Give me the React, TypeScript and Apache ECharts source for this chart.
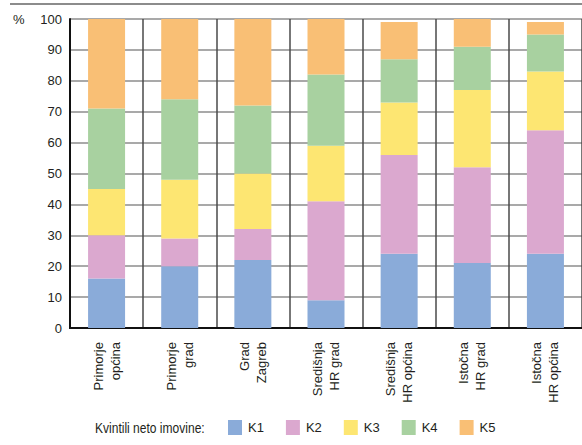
import React, { useEffect, useRef } from "react";
import * as echarts from "echarts";

const categories = [
  "Primorje\nopćina",
  "Primorje\ngrad",
  "Grad\nZagreb",
  "Središnja\nHR grad",
  "Središnja\nHR općina",
  "Istočna\nHR grad",
  "Istočna\nHR općina",
];
const seriesNames = ["K1", "K2", "K3", "K4", "K5"];
const k1 = [16, 20, 22, 9, 24, 21, 24];
const k2 = [14, 9, 10, 32, 32, 31, 40];
const k3 = [15, 19, 18, 18, 17, 25, 19];
const k4 = [26, 26, 22, 23, 14, 14, 12];
const k5 = [29, 26, 28, 18, 12, 9, 4];
const seriesValues = [k1, k2, k3, k4, k5];
const colors = ["#8aabd9", "#dba8cf", "#fde672", "#a8d1a0", "#f9bf75"];
const yTicks = { min: 0, max: 100, interval: 10 };

const FONT = "'Liberation Sans', Arial, sans-serif";

export default function App() {
  const ref = useRef<HTMLDivElement>(null);
  useEffect(() => {
    document.body.style.margin = "0";
    const chart = echarts.init(ref.current!, null, { renderer: "svg" });
    chart.setOption({
      animation: false,
      textStyle: { fontFamily: FONT, color: "#231f20" },
      grid: { left: 70, top: 19, height: 309, width: 514, containLabel: false },
      xAxis: [
        {
          type: "category",
          data: categories,
          axisLine: { show: true, onZero: false, lineStyle: { color: "#111", width: 2 } },
          axisTick: { show: false },
          splitLine: { show: true, lineStyle: { color: "#4a4a4a", width: 1.5 } },
          axisLabel: {
            interval: 0,
            rotate: 90,
            fontSize: 13,
            lineHeight: 17,
            margin: 14,
            color: "#231f20",
            fontFamily: FONT,
            padding: [0, 0, 22, 0],
          },
        },
        {
          type: "category",
          position: "top",
          data: categories,
          axisLine: { show: true, lineStyle: { color: "#111", width: 2 } },
          axisTick: { show: false },
          axisLabel: { show: false },
        },
      ],
      yAxis: {
        type: "value",
        min: yTicks.min,
        max: yTicks.max,
        interval: yTicks.interval,
        axisLine: { show: true, lineStyle: { color: "#111", width: 2 } },
        axisTick: { show: false },
        splitLine: { show: true, lineStyle: { color: "#8c8c8c", width: 1.5 } },
        axisLabel: { fontSize: 13, margin: 8, color: "#231f20", fontFamily: FONT },
      },
      legend: {
        data: seriesNames,
        left: 228,
        top: 420,
        icon: "rect",
        itemWidth: 14,
        itemHeight: 15,
        itemGap: 22,
        padding: 0,
        textStyle: { fontSize: 13, color: "#231f20", fontFamily: FONT, padding: [0, 0, 0, 1] },
      },
      graphic: [
        {
          type: "line",
          shape: { x1: 10, y1: 4, x2: 582, y2: 4 },
          style: { stroke: "#8c8c8c", lineWidth: 2 },
        },
        {
          type: "text",
          x: 13,
          y: 19,
          style: { text: "%", fill: "#231f20", font: `13px ${FONT}`, textVerticalAlign: "middle" },
        },
        {
          type: "text",
          x: 95,
          y: 428,
          scaleX: 0.86,
          style: {
            text: "Kvintili neto imovine:",
            fill: "#231f20",
            font: `14px ${FONT}`,
            textVerticalAlign: "middle",
          },
        },
      ],
      series: seriesNames.map((name, i) => ({
        name,
        type: "bar",
        stack: "total",
        barWidth: 37,
        data: seriesValues[i],
        itemStyle: { color: colors[i] },
      })),
    });
    return () => chart.dispose();
  }, []);
  return <div ref={ref} style={{ width: 582, height: 445 }} />;
}
